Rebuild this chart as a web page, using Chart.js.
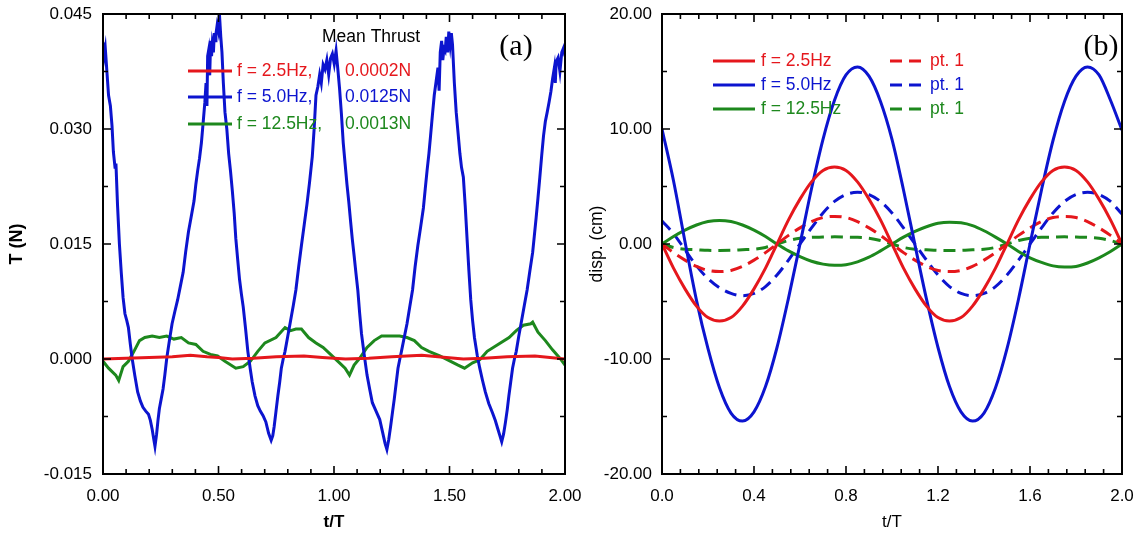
<!DOCTYPE html>
<html>
<head>
<meta charset="utf-8">
<title>Thrust and displacement over two periods</title>
<script src="https://cdn.jsdelivr.net/npm/chart.js@4"></script>
<style>
  html, body { margin: 0; padding: 0; background: #ffffff; }
  #wrap { position: relative; width: 1142px; height: 536px; }
  #wrap canvas { position: absolute; left: 0; top: 0; }
</style>
</head>
<body>
<div id="wrap">
  <canvas id="thrust" width="1142" height="536"></canvas>
  <canvas id="disp" width="1142" height="536"></canvas>
</div>
<script>
// ---------- panel (a): instantaneous thrust T (N) against t/T ----------
const freqLabels = ['f = 2.5Hz', 'f = 5.0Hz', 'f = 12.5Hz'];
const meanThrust = [0.0002, 0.0125, 0.0013];

const tThrust25 = [0, 0.1, 0.2, 0.3, 0.378, 0.45, 0.5, 0.56, 0.65, 0.75, 0.87, 0.95, 1.05, 1.15, 1.25, 1.38, 1.45, 1.56, 1.65, 1.75, 1.87, 2.0];
const thrust25 = [0, 0.0001, 0.0002, 0.0003, 0.0005, 0.0003, 0.0002, 0.0000, 0.0001, 0.0003, 0.0004, 0.0002, 0.0000, 0.0001, 0.0003, 0.0005, 0.0003, 0.0000, 0.0001, 0.0003, 0.0004, 0.0000];

const tThrust50 = [
  0.000, 0.005, 0.010, 0.024, 0.032, 0.039, 0.045, 0.052, 0.056, 0.063, 0.071, 0.079, 0.087, 0.095, 0.103, 0.110, 0.118, 0.126, 0.138, 0.150,
  0.162, 0.173, 0.185, 0.197, 0.205, 0.213, 0.220, 0.225, 0.232, 0.238, 0.244, 0.252, 0.260, 0.268, 0.276, 0.288, 0.299, 0.311, 0.323, 0.335,
  0.347, 0.358, 0.370, 0.382, 0.394, 0.402, 0.410, 0.418, 0.426, 0.434, 0.441, 0.446, 0.450, 0.453, 0.457, 0.462, 0.466, 0.470, 0.473, 0.478,
  0.482, 0.486, 0.489, 0.494, 0.499, 0.504, 0.510, 0.515, 0.521, 0.528, 0.536, 0.544, 0.552, 0.560, 0.568, 0.575, 0.583, 0.591, 0.599, 0.607,
  0.617, 0.627, 0.637, 0.646, 0.658, 0.670, 0.681, 0.693, 0.705, 0.717, 0.728, 0.735, 0.741, 0.749, 0.757, 0.765, 0.772, 0.780, 0.788, 0.800,
  0.812, 0.824, 0.835, 0.847, 0.859, 0.871, 0.883, 0.894, 0.906, 0.914, 0.922, 0.930, 0.938, 0.945, 0.953, 0.961, 0.969, 0.977, 0.985, 0.993,
  1.001, 1.009, 1.016, 1.024, 1.032, 1.040, 1.048, 1.056, 1.064, 1.072, 1.079, 1.087, 1.095, 1.103, 1.111, 1.119, 1.131, 1.143, 1.155, 1.166,
  1.182, 1.198, 1.210, 1.221, 1.229, 1.237, 1.245, 1.253, 1.261, 1.269, 1.277, 1.285, 1.292, 1.304, 1.316, 1.328, 1.340, 1.351, 1.363, 1.375,
  1.387, 1.395, 1.403, 1.411, 1.418, 1.426, 1.434, 1.442, 1.450, 1.455, 1.460, 1.466, 1.471, 1.476, 1.481, 1.486, 1.492, 1.497, 1.503, 1.508,
  1.513, 1.521, 1.529, 1.537, 1.545, 1.552, 1.560, 1.568, 1.576, 1.584, 1.592, 1.600, 1.608, 1.620, 1.631, 1.643, 1.655, 1.670, 1.686, 1.698,
  1.710, 1.718, 1.726, 1.734, 1.742, 1.750, 1.757, 1.765, 1.773, 1.781, 1.789, 1.800, 1.812, 1.824, 1.836, 1.848, 1.860, 1.867, 1.875, 1.883,
  1.891, 1.899, 1.907, 1.915, 1.923, 1.931, 1.939, 1.946, 1.954, 1.958, 1.962, 1.970, 1.978, 1.986, 1.994, 2.000
];
const thrust50 = [
  0.0413, 0.0395, 0.0405, 0.0344, 0.0330, 0.0304, 0.0270, 0.0250, 0.0255, 0.0200, 0.0150, 0.0113, 0.0080, 0.0059, 0.0050, 0.0041, 0.0020, 0.0001, -0.0022, -0.0043,
  -0.0055, -0.0063, -0.0068, -0.0072, -0.0080, -0.0092, -0.0105, -0.0114, -0.0098, -0.0080, -0.0065, -0.0052, -0.0039, -0.0020, 0.0001, 0.0025, 0.0046, 0.0062, 0.0077, 0.0095,
  0.0113, 0.0140, 0.0166, 0.0186, 0.0206, 0.0228, 0.0246, 0.0262, 0.0282, 0.0310, 0.0335, 0.0360, 0.0330, 0.0395, 0.0402, 0.0370, 0.0415, 0.0395, 0.0410, 0.0400,
  0.0425, 0.0415, 0.0424, 0.0435, 0.0428, 0.0450, 0.0420, 0.0400, 0.0360, 0.0322, 0.0300, 0.0268, 0.0245, 0.0219, 0.0190, 0.0157, 0.0130, 0.0104, 0.0085, 0.0068,
  0.0040, 0.0010, -0.0012, -0.0030, -0.0048, -0.0061, -0.0068, -0.0074, -0.0082, -0.0097, -0.0106, -0.0100, -0.0088, -0.0068, -0.0048, -0.0030, -0.0012, 0.0000, 0.0010, 0.0030,
  0.0050, 0.0070, 0.0090, 0.0120, 0.0148, 0.0175, 0.0202, 0.0230, 0.0264, 0.0300, 0.0344, 0.0355, 0.0371, 0.0360, 0.0384, 0.0378, 0.0390, 0.0371, 0.0392, 0.0398,
  0.0385, 0.0402, 0.0380, 0.0353, 0.0320, 0.0282, 0.0255, 0.0228, 0.0205, 0.0179, 0.0157, 0.0135, 0.0112, 0.0090, 0.0060, 0.0033, 0.0005, -0.0021, -0.0040, -0.0057,
  -0.0068, -0.0079, -0.0095, -0.0110, -0.0118, -0.0105, -0.0088, -0.0070, -0.0052, -0.0032, -0.0012, 0.0000, 0.0010, 0.0028, 0.0046, 0.0068, 0.0090, 0.0120, 0.0148, 0.0172,
  0.0197, 0.0222, 0.0246, 0.0268, 0.0291, 0.0318, 0.0344, 0.0362, 0.0380, 0.0350, 0.0400, 0.0415, 0.0390, 0.0405, 0.0402, 0.0420, 0.0400, 0.0427, 0.0410, 0.0425,
  0.0410, 0.0360, 0.0322, 0.0295, 0.0268, 0.0250, 0.0237, 0.0200, 0.0157, 0.0115, 0.0077, 0.0050, 0.0028, 0.0005, -0.0012, -0.0028, -0.0043, -0.0058, -0.0070, -0.0080,
  -0.0092, -0.0100, -0.0108, -0.0098, -0.0083, -0.0066, -0.0048, -0.0030, -0.0012, 0.0000, 0.0010, 0.0030, 0.0050, 0.0070, 0.0090, 0.0115, 0.0139, 0.0160, 0.0184, 0.0210,
  0.0237, 0.0265, 0.0291, 0.0310, 0.0322, 0.0335, 0.0349, 0.0365, 0.0380, 0.0360, 0.0388, 0.0393, 0.0375, 0.0400, 0.0406, 0.0395
];

const tThrust125 = [
  0.000, 0.024, 0.055, 0.068, 0.087, 0.110, 0.134, 0.158, 0.181, 0.213, 0.244, 0.276, 0.307, 0.339, 0.370, 0.402, 0.433, 0.465, 0.496, 0.528,
  0.575, 0.607, 0.638, 0.670, 0.701, 0.749, 0.788, 0.812, 0.835, 0.859, 0.890, 0.922, 0.953, 0.985, 1.017, 1.048, 1.067, 1.087, 1.111, 1.143,
  1.174, 1.206, 1.253, 1.284, 1.316, 1.348, 1.379, 1.411, 1.458, 1.505, 1.537, 1.565, 1.600, 1.631, 1.663, 1.710, 1.758, 1.789, 1.820, 1.852,
  1.860, 1.883, 1.915, 1.946, 1.978, 2.000
];
const thrust125 = [
  -0.0003, -0.0012, -0.0021, -0.0028, -0.0010, -0.0003, 0.0010, 0.0024, 0.0028, 0.0030, 0.0028, 0.0030, 0.0026, 0.0028, 0.0021, 0.0019, 0.0010, 0.0006, 0.0004, -0.0003,
  -0.0012, -0.0010, -0.0003, 0.0010, 0.0021, 0.0028, 0.0041, 0.0037, 0.0039, 0.0039, 0.0028, 0.0021, 0.0015, 0.0006, -0.0003, -0.0012, -0.0021, -0.0008, 0.0001, 0.0015,
  0.0024, 0.0030, 0.0030, 0.0030, 0.0028, 0.0024, 0.0015, 0.0010, 0.0004, -0.0003, -0.0008, -0.0012, -0.0005, -0.0001, 0.0010, 0.0019, 0.0028, 0.0037, 0.0044, 0.0046,
  0.0048, 0.0035, 0.0024, 0.0012, 0.0001, -0.0008
];

const thrustTicks = [-0.015, 0.000, 0.015, 0.030, 0.045];
const periodTicksA = [0.00, 0.50, 1.00, 1.50, 2.00];

// ---------- panel (b): displacement (cm) against t/T ----------
const tDisp = [0.00, 0.05, 0.10, 0.15, 0.20, 0.25, 0.30, 0.35, 0.40, 0.45, 0.50, 0.55, 0.60, 0.65, 0.70, 0.75, 0.80, 0.85, 0.90, 0.95,
               1.00, 1.05, 1.10, 1.15, 1.20, 1.25, 1.30, 1.35, 1.40, 1.45, 1.50, 1.55, 1.60, 1.65, 1.70, 1.75, 1.80, 1.85, 1.90, 1.95, 2.00];
const disp25 = [0, -2.1, -3.9, -5.4, -6.4, -6.7, -6.4, -5.4, -3.9, -2.1, 0, 2.1, 3.9, 5.4, 6.4, 6.7, 6.4, 5.4, 3.9, 2.1,
                0, -2.1, -3.9, -5.4, -6.4, -6.7, -6.4, -5.4, -3.9, -2.1, 0, 2.1, 3.9, 5.4, 6.4, 6.7, 6.4, 5.4, 3.9, 2.1, 0];
const disp50 = [10.0, 5.5, 0.2, -4.9, -9.1, -12.5, -14.7, -15.4, -14.6, -12.4, -9.0, -4.7, 0.0, 4.8, 9.1, 12.5, 14.7, 15.4, 14.6, 12.4,
                9.1, 4.7, -0.1, -4.8, -9.0, -12.4, -14.6, -15.4, -14.7, -12.5, -9.1, -4.8, 0.0, 4.7, 9.0, 12.4, 14.6, 15.4, 14.7, 12.5, 9.9];
const disp125 = [0, 0.65, 1.2, 1.65, 1.95, 2.05, 1.95, 1.65, 1.2, 0.65, 0, -0.6, -1.1, -1.5, -1.75, -1.85, -1.8, -1.55, -1.15, -0.6,
                 0, 0.6, 1.1, 1.5, 1.8, 1.9, 1.85, 1.6, 1.15, 0.6, 0, -0.65, -1.2, -1.6, -1.9, -2.0, -1.95, -1.65, -1.2, -0.65, 0];
const pt1Disp25 = [0, -0.75, -1.4, -1.95, -2.3, -2.4, -2.3, -1.95, -1.4, -0.75, 0, 0.75, 1.4, 1.95, 2.3, 2.4, 2.3, 1.95, 1.4, 0.75,
                   0, -0.75, -1.4, -1.95, -2.3, -2.4, -2.3, -1.95, -1.4, -0.75, 0, 0.75, 1.4, 1.95, 2.3, 2.4, 2.3, 1.95, 1.4, 0.75, 0];
const pt1Disp50 = [2.0, 0.9, -0.5, -1.9, -3.0, -3.8, -4.3, -4.5, -4.3, -3.7, -2.7, -1.4, 0.0, 1.4, 2.7, 3.7, 4.3, 4.5, 4.3, 3.7,
                   2.7, 1.4, 0.0, -1.4, -2.7, -3.7, -4.3, -4.5, -4.3, -3.7, -2.7, -1.4, 0.0, 1.4, 2.7, 3.7, 4.3, 4.5, 4.3, 3.7, 2.6];
const pt1Disp125 = [0, -0.3, -0.45, -0.5, -0.55, -0.56, -0.55, -0.5, -0.45, -0.3, 0, 0.3, 0.5, 0.58, 0.6, 0.62, 0.6, 0.58, 0.5, 0.3,
                    0, -0.3, -0.45, -0.5, -0.55, -0.56, -0.55, -0.5, -0.45, -0.3, 0, 0.3, 0.5, 0.58, 0.6, 0.62, 0.6, 0.58, 0.5, 0.3, 0];

const dispTicks = [-20, -10, 0, 10, 20];
const periodTicksB = [0.0, 0.4, 0.8, 1.2, 1.6, 2.0];

// ---------- shared styling ----------
const RED = '#e5171c';
const BLUE = '#0c14cf';
const GREEN = '#1d881d';
const SANS = '"Liberation Sans", Arial, Helvetica, sans-serif';
const SERIF = '"Liberation Serif", "Times New Roman", serif';
Chart.defaults.font.family = SANS;
Chart.defaults.color = '#000';

const pts = (xs, ys) => xs.map((x, i) => ({ x, y: ys[i] }));

function line(xs, ys, color, dashed, smooth) {
  return {
    data: pts(xs, ys),
    borderColor: color,
    backgroundColor: color,
    borderWidth: 3,
    borderDash: dashed ? [12, 7] : [],
    pointRadius: 0,
    tension: smooth ? 0.4 : 0,
    cubicInterpolationMode: smooth ? 'monotone' : 'default',
    fill: false
  };
}

// list of [value, isMajor] tick positions between min and max
function tickList(min, max, minorStep, majorStep) {
  const out = [];
  const n = Math.round((max - min) / minorStep);
  for (let i = 0; i <= n; i++) {
    const v = min + i * minorStep;
    const r = (v - min) / majorStep;
    out.push([v, Math.abs(r - Math.round(r)) < 1e-6]);
  }
  return out;
}

// frame with inward tick marks on all four sides
const framePlugin = {
  id: 'frame',
  afterDatasetsDraw(chart, args, opts) {
    const { ctx, chartArea: a, scales: { x, y } } = chart;
    ctx.save();
    ctx.strokeStyle = '#000';
    ctx.lineWidth = 1.6;
    ctx.beginPath();
    for (const [v, major] of opts.xTicks) {
      const px = x.getPixelForValue(v);
      const len = major ? 8 : 5;
      ctx.moveTo(px, a.bottom); ctx.lineTo(px, a.bottom - len);
      ctx.moveTo(px, a.top); ctx.lineTo(px, a.top + len);
    }
    for (const [v, major] of opts.yTicks) {
      const py = y.getPixelForValue(v);
      const len = major ? 8 : 5;
      ctx.moveTo(a.left, py); ctx.lineTo(a.left + len, py);
      ctx.moveTo(a.right, py); ctx.lineTo(a.right - len, py);
    }
    ctx.stroke();
    ctx.lineWidth = 2;
    ctx.strokeRect(a.left, a.top, a.right - a.left, a.bottom - a.top);
    ctx.restore();
  }
};

function axes(o) {
  return {
    x: {
      type: 'linear', min: o.xTicks[0], max: o.xTicks[o.xTicks.length - 1],
      afterBuildTicks: s => { s.ticks = o.xTicks.map(v => ({ value: v })); },
      afterFit: s => { s.height = 62; s.paddingLeft = 0; s.paddingRight = 0; },
      grid: { display: false, drawTicks: false },
      border: { display: false },
      ticks: { padding: 12, font: { size: 17 }, color: '#000', maxRotation: 0, autoSkip: false,
               callback: v => Number(v).toFixed(o.xDec) },
      title: { display: true, text: 't/T', color: '#000',
               font: { size: 17, weight: o.bold ? 'bold' : 'normal' }, padding: { top: 0, bottom: 3 } }
    },
    y: {
      type: 'linear', min: o.yTicks[0], max: o.yTicks[o.yTicks.length - 1],
      afterBuildTicks: s => { s.ticks = o.yTicks.map(v => ({ value: v })); },
      afterFit: s => { s.width = o.yWidth; s.paddingTop = 0; s.paddingBottom = 0; },
      grid: { display: false, drawTicks: false },
      border: { display: false },
      ticks: { padding: o.yPad, font: { size: 17 }, color: '#000', autoSkip: false,
               callback: v => Number(v).toFixed(o.yDec) },
      title: { display: true, text: o.yTitle, color: '#000',
               font: { size: o.yTitleSize, weight: o.bold ? 'bold' : 'normal' },
               padding: { top: o.yTitlePad, bottom: 0 } }
    }
  };
}

// ---------- panel (a) ----------
const thrustLegend = {
  id: 'thrustLegend',
  afterDraw(chart) {
    const ctx = chart.ctx;
    ctx.save();
    ctx.textBaseline = 'middle';
    ctx.textAlign = 'left';
    ctx.font = '17.5px ' + SANS;
    ctx.fillStyle = '#000';
    ctx.fillText('Mean Thrust', 322, 37);
    const rows = [71, 97, 124];
    chart.data.datasets.forEach((ds, i) => {
      ctx.strokeStyle = ds.borderColor;
      ctx.lineWidth = 3;
      ctx.beginPath(); ctx.moveTo(188, rows[i]); ctx.lineTo(232, rows[i]); ctx.stroke();
      ctx.fillStyle = ds.borderColor;
      ctx.fillText(ds.label + ',', 237, rows[i]);
      ctx.fillText(meanThrust[i].toFixed(4) + 'N', 345, rows[i]);
    });
    ctx.font = '30px ' + SERIF;
    ctx.fillStyle = '#000';
    ctx.textAlign = 'center';
    ctx.fillText('(a)', 516, 47);
    ctx.restore();
  }
};

new Chart(document.getElementById('thrust'), {
  type: 'line',
  data: {
    datasets: [
      Object.assign(line(tThrust25, thrust25, RED, false, false), { label: freqLabels[0] }),
      Object.assign(line(tThrust50, thrust50, BLUE, false, false), { label: freqLabels[1] }),
      Object.assign(line(tThrust125, thrust125, GREEN, false, false), { label: freqLabels[2] })
    ]
  },
  options: {
    responsive: false,
    animation: false,
    devicePixelRatio: 1,
    layout: { padding: { left: 0, top: 14, right: 577, bottom: 0 } },
    plugins: {
      legend: { display: false }, tooltip: { enabled: false },
      frame: { xTicks: tickList(0, 2, 0.1, 0.5), yTicks: tickList(-0.015, 0.045, 0.0075, 0.015) }
    },
    scales: axes({ xTicks: periodTicksA, xDec: 2, yTicks: thrustTicks, yDec: 3, yWidth: 103, yPad: 11,
                   yTitle: 'T (N)', yTitleSize: 18, yTitlePad: 6, bold: true })
  },
  plugins: [framePlugin, thrustLegend]
});

// ---------- panel (b) ----------
const dispLegend = {
  id: 'dispLegend',
  afterDraw(chart) {
    const ctx = chart.ctx;
    const ds = chart.data.datasets;
    ctx.save();
    ctx.textBaseline = 'middle';
    ctx.textAlign = 'left';
    ctx.font = '17.5px ' + SANS;
    const rows = [61, 85, 109];
    for (let i = 0; i < 3; i++) {
      const solid = ds[i], dashed = ds[i + 3];
      ctx.lineWidth = 3;
      ctx.strokeStyle = solid.borderColor;
      ctx.setLineDash([]);
      ctx.beginPath(); ctx.moveTo(713, rows[i]); ctx.lineTo(755, rows[i]); ctx.stroke();
      ctx.fillStyle = solid.borderColor;
      ctx.fillText(solid.label, 761, rows[i]);
      ctx.strokeStyle = dashed.borderColor;
      ctx.setLineDash([12, 7]);
      ctx.beginPath(); ctx.moveTo(890, rows[i]); ctx.lineTo(923, rows[i]); ctx.stroke();
      ctx.fillStyle = dashed.borderColor;
      ctx.fillText(dashed.label, 930, rows[i]);
    }
    ctx.setLineDash([]);
    ctx.font = '30px ' + SERIF;
    ctx.fillStyle = '#000';
    ctx.textAlign = 'center';
    ctx.fillText('(b)', 1101, 47);
    ctx.restore();
  }
};

new Chart(document.getElementById('disp'), {
  type: 'line',
  data: {
    datasets: [
      Object.assign(line(tDisp, disp25, RED, false, true), { label: freqLabels[0] }),
      Object.assign(line(tDisp, disp50, BLUE, false, true), { label: freqLabels[1] }),
      Object.assign(line(tDisp, disp125, GREEN, false, true), { label: freqLabels[2] }),
      Object.assign(line(tDisp, pt1Disp25, RED, true, true), { label: 'pt. 1' }),
      Object.assign(line(tDisp, pt1Disp50, BLUE, true, true), { label: 'pt. 1' }),
      Object.assign(line(tDisp, pt1Disp125, GREEN, true, true), { label: 'pt. 1' })
    ]
  },
  options: {
    responsive: false,
    animation: false,
    devicePixelRatio: 1,
    layout: { padding: { left: 570, top: 14, right: 20, bottom: 0 } },
    plugins: {
      legend: { display: false }, tooltip: { enabled: false },
      frame: { xTicks: tickList(0, 2, 0.08, 0.4), yTicks: tickList(-20, 20, 5, 10) }
    },
    scales: axes({ xTicks: periodTicksB, xDec: 1, yTicks: dispTicks, yDec: 2, yWidth: 92, yPad: 10,
                   yTitle: 'disp. (cm)', yTitleSize: 17.5, yTitlePad: 17, bold: false })
  },
  plugins: [framePlugin, dispLegend]
});
</script>
</body>
</html>
